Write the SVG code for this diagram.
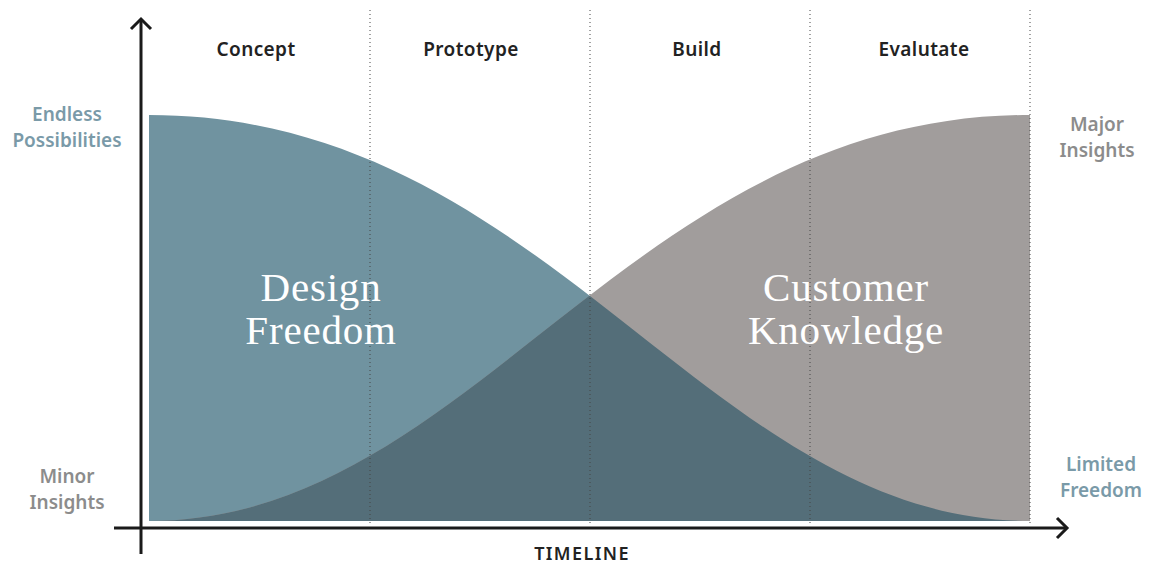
<svg xmlns="http://www.w3.org/2000/svg" width="1150" height="565" viewBox="0 0 1150 565">
<style>
.hdr{font-family:"Noto Sans","Lato",sans-serif;font-weight:600;font-size:19px;letter-spacing:0.4px;fill:#222;text-anchor:middle}
.lblb{font-family:"Noto Sans","Lato",sans-serif;font-weight:600;font-size:19px;fill:#7a9aa8;text-anchor:middle}
.lblg{font-family:"Noto Sans","Lato",sans-serif;font-weight:600;font-size:19px;fill:#8c8c8c;text-anchor:middle}
.big{font-family:"Liberation Serif","DejaVu Serif",serif;font-size:41px;letter-spacing:0.8px;fill:#ffffff;text-anchor:middle}
.grid{stroke:#444;stroke-width:1;stroke-dasharray:1 3;fill:none}
.axis{stroke:#1a1a1a;stroke-width:3;fill:none}
</style>
<defs>
<clipPath id="blueClip"><path d="M149,521 L149,115 C549,115 707,521 1030,521 Z"/></clipPath>
</defs>
<rect width="1150" height="565" fill="#ffffff"/>
<g id="areas">
<path id="design-freedom-area" d="M149,521 L149,115 C549,115 707,521 1030,521 Z" fill="#7093a0"/>
<path id="customer-knowledge-area" d="M149,521 C472,521 630,115 1030,115 L1030,521 Z" fill="#a19d9c"/>
<path id="overlap-area" d="M149,521 C472,521 630,115 1030,115 L1030,521 Z" fill="#546e79" clip-path="url(#blueClip)"/>
</g>
<g id="grid">
<line class="grid" x1="370" y1="10" x2="370" y2="525"/>
<line class="grid" x1="590" y1="10" x2="590" y2="525"/>
<line class="grid" x1="810" y1="10" x2="810" y2="525"/>
<line class="grid" x1="1030" y1="10" x2="1030" y2="525"/>
</g>
<g id="connectors">
<line class="axis" x1="141" y1="20" x2="141" y2="554"/>
<polyline class="axis" points="131,29 141,19 151,29"/>
<line class="axis" x1="114" y1="528" x2="1066" y2="528"/>
<polyline class="axis" points="1057,518 1067,528 1057,538"/>
</g>
<g id="phase-concept"><text class="hdr" x="256" y="56">Concept</text></g>
<g id="phase-prototype"><text class="hdr" x="471" y="56">Prototype</text></g>
<g id="phase-build"><text class="hdr" x="697" y="56">Build</text></g>
<g id="phase-evaluate"><text class="hdr" x="924" y="56">Evalutate</text></g>
<g id="label-endless"><text class="lblb" x="67" y="121">Endless</text><text class="lblb" x="67" y="147">Possibilities</text></g>
<g id="label-minor"><text class="lblg" x="67" y="483">Minor</text><text class="lblg" x="67" y="509">Insights</text></g>
<g id="label-major"><text class="lblg" x="1097" y="131">Major</text><text class="lblg" x="1097" y="157">Insights</text></g>
<g id="label-limited"><text class="lblb" x="1101" y="471">Limited</text><text class="lblb" x="1101" y="497">Freedom</text></g>
<g id="label-timeline"><text class="hdr" x="582" y="560" style="font-size:18px;letter-spacing:1.4px">TIMELINE</text></g>
<g id="design-freedom"><text class="big" x="321" y="301">Design</text><text class="big" x="321" y="344">Freedom</text></g>
<g id="customer-knowledge"><text class="big" x="846" y="301">Customer</text><text class="big" x="846" y="344">Knowledge</text></g>
</svg>
